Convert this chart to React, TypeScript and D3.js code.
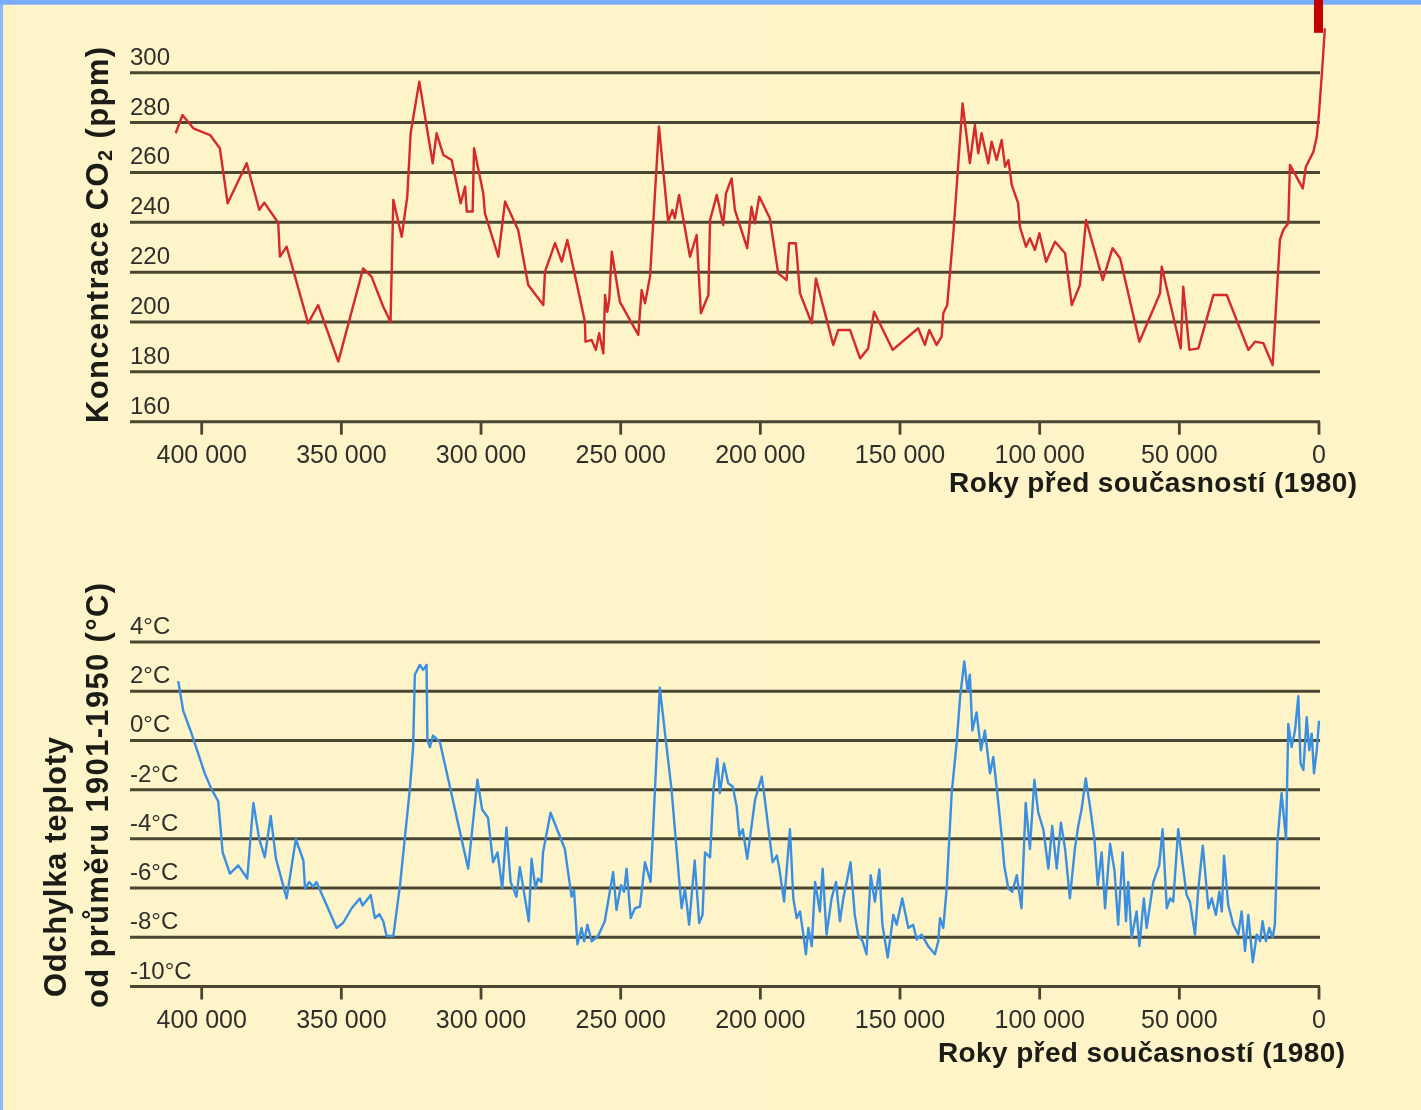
import React from "react";
import * as d3 from "d3";

// Ice-core record, years before present (thousands), CO2 concentration (ppm)
const co2Years = [
  409.3, 406.9, 403, 397, 393.5, 390.7, 383.9, 379.4, 377.6, 372.6, 372, 369.6, 361.9, 358.3, 351.1,
  342.2, 339.2, 335, 332.4, 331.4, 328.4, 326.4, 325.2, 322.1, 317.3, 315.9, 313.5, 310.5, 307.3,
  305.7, 305.1, 303, 302.5, 299.2, 298.6, 293.8, 291.4, 286.7, 283.1, 277.7, 277.1, 273.5, 271.1,
  269.1, 262.8, 262.6, 260.4, 258.9, 257.7, 256.2, 255.6, 254.8, 254.1, 253.2, 250.3, 243.7, 242.5,
  241.3, 239.5, 236.3, 233, 231.5, 230.6, 229.1, 225.2, 222.8, 221.3, 218.6, 218, 215.6, 213.3,
  212.3, 210.3, 209.1, 204.7, 203.2, 202, 200.4, 196.6, 193.6, 190.6, 189.7, 187.3, 185.8, 181.6,
  180.1, 173.9, 172.1, 167.9, 164.3, 161.4, 159.3, 152.6, 143.5, 141.1, 139.5, 136.9, 135.1, 134.5,
  133.1, 130.9, 127.6, 125, 123.2, 122, 120.8, 118.4, 117.2, 115.4, 113.6, 112.4, 111.2, 110, 107.7,
  107.1, 104.9, 103.5, 101.7, 100.1, 97.7, 94.5, 90.9, 88.5, 85.6, 83.4, 77.4, 73.9, 71.2, 64.3,
  56.9, 56.3, 49.5, 48.6, 46.4, 43.2, 37.8, 33, 25.3, 22.9, 19.9, 16.6, 14, 12.8, 11, 10.4, 5.8,
  4.7, 2, 0.8, 0, -1.2, -2.1,
];
const co2Values = [
  275.7, 283, 277.7, 275, 269.7, 247.6, 263.7, 245, 247.9, 239.8, 226.2, 230.2, 199.5, 206.8, 184.1,
  221.5, 218.2, 206.1, 200.1, 249, 234.2, 250.3, 275.7, 296.4, 263.7, 275.7, 267, 265, 247.6,
  254.3, 244.3, 244.3, 269.7, 251.6, 243.6, 226.2, 248.3, 236.9, 214.8, 206.8, 220.2, 231.6, 224.2,
  232.9, 200.1, 192.1, 192.8, 188.8, 195.5, 187.4, 210.8, 204.1, 208.8, 228.2, 208.1, 194.8, 212.8,
  207.5, 218.2, 278.4, 240.2, 244.9, 241.6, 251, 226.2, 234.9, 203.5, 210.8, 240.9, 251, 238.9,
  251.6, 257.6, 244.9, 229.6, 246.2, 239.6, 250.3, 241.6, 219.5, 216.8, 231.6, 231.6, 211.5, 199.5,
  217.5, 190.8, 196.8, 196.8, 185.4, 189.4, 204.1, 188.8, 197.5, 190.8, 196.8, 190.8, 194.1, 203.5,
  206.8, 235.6, 287.7, 263.7, 279, 267.7, 275.7, 263.7, 272.3, 265, 273, 262.3, 265, 255, 247.6,
  238.2, 230.2, 233.6, 228.9, 235.6, 224.2, 232.2, 227.6, 206.8, 214.8, 240.9, 216.8, 229.6, 225.6, 192.1,
  211.5, 222.2, 189.4, 214.2, 188.8, 189.4, 210.8, 210.8, 188.8, 192.1, 191.5, 182.7, 232.9, 236.9, 239.6, 263, 253.6,
  262.3, 268.3, 274.3, 283.7, 302.4, 317.8,
];

// Temperature deviation from the 1901-1950 mean (°C)
const tempYears = [
  408.4, 406.6, 403.6, 398.9, 396.4, 394.1, 392.5, 389.9, 386.9, 383.7, 381.5, 379.4, 377.4, 375.3,
  373.4, 369.6, 366.3, 363.6, 363, 361.5, 360.1, 358.9, 351.7, 349.4, 346.3, 343.4, 342.4, 339.5,
  338, 336.4, 335, 333.8, 331.4, 329, 327.2, 325.5, 324.3, 323.7, 321.9, 320.7, 319.5, 319.2, 318.3,
  317.2, 314.7, 304.6, 301.3, 299.6, 297.5, 295.7, 294.1, 292.4, 290.9, 289.4, 287.3, 286.1, 282.9,
  281.9, 280.5, 279.6, 278.4, 277.8, 275.1, 270, 267.6, 266.7, 265.5, 264, 263.1, 261.9, 260.4,
  258.1, 255.7, 252.7, 251.5, 249.9, 248.8, 247.9, 246.4, 244.9, 243.1, 241.3, 239.3, 236, 231.8,
  228.2, 227, 225.5, 223.5, 221.9, 220.7, 219.8, 218, 216.8, 215.4, 214.5, 213, 211.5, 209.9, 208.5,
  207.5, 206.3, 204.7, 201.9, 199.5, 198.7, 195.6, 194.1, 193.2, 191.5, 189.4, 188.2, 187, 185.8,
  184.6, 183.7, 182.8, 181.6, 180.4, 178.7, 177.7, 176.3, 174.5, 172.9, 171.5, 170.3, 167.7, 166.2,
  165, 163.4, 162, 160.5, 159, 157.4, 156.3, 154.4, 152.4, 151.2, 149.2, 147, 145.3, 144, 142.3,
  139.9, 137.5, 136.3, 135.7, 134.5, 133.3, 131.5, 129.7, 128.5, 127, 125.8, 125, 124.1, 122.6, 121,
  119.6, 117.8, 116.6, 114.8, 113.6, 112.7, 111.2, 109.8, 108.2, 106.5, 105, 103.5, 101.9, 100.5,
  98.7, 96.9, 95.5, 93.9, 92.4, 90.9, 89.2, 87.4, 86.2, 85, 83.5, 82, 80.4, 79.2, 77.8, 76.6, 74.8,
  73.2, 71.9, 70.3, 69.1, 68.3, 67.1, 65.3, 64.3, 62.7, 61.7, 59.3, 57.2, 56, 54.5, 53.3, 52.2, 50.4,
  47.4, 46.2, 44.4, 43.2, 41.6, 39.6, 38.4, 36.9, 35.7, 34.8, 34, 32.5, 30.7, 28.9, 27.7, 26.5, 25.3,
  23.7, 22.3, 21.1, 20.2, 19, 17.8, 16.6, 15.8, 14.9, 13.4, 11.8, 11, 9.8, 8.6, 7.4, 6.6, 5.6, 4.4,
  3.5, 2.6, 1.8, 0.8, 0,
];
const tempValues = [
  2.41, 1.2, 0.27, -1.34, -2.0, -2.47, -4.55, -5.41, -5.08, -5.61, -2.54, -4.01, -4.75, -3.07,
  -4.81, -6.42, -4.01, -4.88, -6.02, -5.75, -5.95, -5.75, -7.62, -7.42, -6.82, -6.42, -6.71, -6.28,
  -7.22, -7.06, -7.35, -7.95, -7.95, -5.88, -3.88, -2.0, -0.27, 2.67, 3.07, 2.87, 3.07, 0, -0.27,
  0.2, -0.07, -5.21, -1.6, -2.81, -3.14, -4.95, -4.55, -6.02, -3.54, -5.75, -6.35, -5.15, -7.35,
  -4.81, -6.02, -5.61, -5.75, -4.55, -2.94, -4.41, -6.35, -6.08, -8.29, -7.62, -8.16, -7.49, -8.16,
  -7.95, -7.35, -5.35, -6.89, -5.88, -6.15, -5.21, -7.22, -6.82, -6.75, -4.95, -5.75, 2.14, -2.0,
  -6.82, -6.02, -7.49, -4.88, -7.42, -7.09, -4.55, -4.75, -2.0, -0.74, -2.14, -0.94, -1.74, -1.87, -2.67,
  -3.88, -3.61, -4.81, -2.41, -1.47, -2.14, -4.95, -4.68, -5.21, -6.55, -3.61, -6.42, -7.22, -6.95,
  -7.89, -8.69, -7.62, -8.36, -5.75, -6.95, -5.21, -7.89, -6.42, -5.75, -7.35, -6.42, -4.95, -7.09,
  -7.89, -8.16, -8.69, -5.48, -6.55, -5.24, -7.49, -8.82, -7.09, -7.49, -6.42, -7.62, -7.49, -8.09, -7.89,
  -8.36, -8.69, -8.16, -7.22, -7.62, -6.02, -2.14, -0.07, 1.74, 3.21, 2.0, 2.67, 0.4, 1.14, -0.4,
  0.4, -1.34, -0.67, -2.54, -3.88, -5.08, -6.02, -6.15, -5.48, -6.82, -2.54, -4.41, -1.6, -2.94,
  -3.61, -5.21, -3.48, -5.21, -3.34, -4.41, -6.42, -4.41, -3.48, -2.81, -1.54, -2.67, -4.01, -5.88, -4.55, -6.82, -4.2,
  -5.3, -7.49, -4.55, -7.35, -5.75, -8.02, -6.95, -8.36, -6.42, -7.62, -5.75, -5.08, -3.61, -6.82, -6.42, -6.55, -3.61,
  -6.28, -6.55, -7.89, -6.02, -4.28, -6.82, -6.42, -7.09, -6.15, -6.95, -4.68, -6.68, -7.49, -7.89, -6.95, -8.56, -7.09,
  -9.02, -7.89, -8.16, -7.35, -8.16, -7.62, -8.02, -7.49, -4.14, -2.14, -4.01, 0.67, -0.27, 0.4, 1.8, -0.94, -1.2, 0.94,
  -0.4, 0.27, -1.34, -0.4, 0.8,
];

// Axis ticks
const yearTicks = [400, 350, 300, 250, 200, 150, 100, 50, 0];
const co2Ticks = [160, 180, 200, 220, 240, 260, 280, 300];
const tempTicks = [-10, -8, -6, -4, -2, 0, 2, 4];

// Present-day CO2 level, above the top of the scale
const presentCO2 = 316;

const xTitle = "Roky před současností (1980)";

const W = 1421;
const H = 1110;

const grid = "#4a4631";
const ink = "#2f2f2c";
const tickFont = "'Liberation Sans', Arial, sans-serif";

const fmtYears = d3.formatLocale({ decimal: ",", thousands: " ", grouping: [3], currency: ["", ""] }).format(",d");

export default function App() {
  const x = d3.scaleLinear().domain([400, 0]).range([201.7, 1319]);
  const yCO2 = d3.scaleLinear().domain([160, 300]).range([421.7, 72.7]);
  const yTemp = d3.scaleLinear().domain([-10, 4]).range([986.5, 642]);
  const gridX0 = 130;
  const gridX1 = 1320;

  const co2Line = d3
    .line<number>()
    .x((_, i) => x(co2Years[i]))
    .y((d) => yCO2(d));
  const tempLine = d3
    .line<number>()
    .x((_, i) => x(tempYears[i]))
    .y((d) => yTemp(d));

  const xAxis = (y0: number, key: string) => (
    <g key={key}>
      {yearTicks.map((t) => (
        <g key={t}>
          <line x1={x(t)} x2={x(t)} y1={y0} y2={y0 + 13} stroke={grid} strokeWidth={2.8} />
          <text
            x={x(t)}
            y={y0 + 41}
            textAnchor="middle"
            fontFamily={tickFont}
            fontSize={25}
            fill={ink}
          >
            {fmtYears(t * 1000)}
          </text>
        </g>
      ))}
    </g>
  );

  return (
    <svg
      width={W}
      height={H}
      viewBox={`0 0 ${W} ${H}`}
      style={{ position: "absolute", left: 0, top: 0, display: "block" }}
    >
      <defs>
        <filter id="soft" x="-5%" y="-5%" width="110%" height="110%">
          <feGaussianBlur stdDeviation="0.45" />
        </filter>
        <linearGradient id="bg" x1="0" x2="1" y1="0" y2="0">
          <stop offset="0" stopColor="#fbf3bf" />
          <stop offset="0.015" stopColor="#fef4c9" />
          <stop offset="1" stopColor="#fef4c8" />
        </linearGradient>
      </defs>
      <rect x={0} y={0} width={W} height={H} fill="url(#bg)" />
      <rect x={0} y={0} width={3} height={H} fill="#8ab8ff" />
      <rect x={0} y={0} width={W} height={4.7} fill="#78acff" />

      <g filter="url(#soft)">
        {/* CO2 panel */}
        {co2Ticks.map((t) => (
          <g key={`c${t}`}>
            <line x1={gridX0} x2={gridX1} y1={yCO2(t)} y2={yCO2(t)} stroke={grid} strokeWidth={3} />
            <text x={gridX0} y={yCO2(t) - 8} fontFamily={tickFont} fontSize={24} fill={ink}>
              {t}
            </text>
          </g>
        ))}
        {xAxis(yCO2(160), "xa1")}
        <path d={co2Line(co2Values) || ""} fill="none" stroke="#d42a2a" strokeWidth={2.4} strokeLinejoin="round" />
        <text
          transform={`translate(108,423) rotate(-90)`}
          fontFamily={tickFont}
          fontWeight="bold"
          fontSize={31}
          fill="#1b1b19"
          textLength={376}
          lengthAdjust="spacing"
        >
          Koncentrace CO
          <tspan fontSize={20} dy={4}>
            2
          </tspan>
          <tspan dy={-4}> (ppm)</tspan>
        </text>
        <text
          x={1357}
          y={492}
          textAnchor="end"
          fontFamily={tickFont}
          fontWeight="bold"
          fontSize={28}
          fill="#1b1b19"
          textLength={408}
          lengthAdjust="spacing"
        >
          {xTitle}
        </text>

        {/* Temperature panel */}
        {tempTicks.map((t) => (
          <g key={`t${t}`}>
            <line x1={gridX0} x2={gridX1} y1={yTemp(t)} y2={yTemp(t)} stroke={grid} strokeWidth={3} />
            <text x={gridX0} y={yTemp(t) - 8} fontFamily={tickFont} fontSize={24} fill={ink}>
              {`${t}°C`}
            </text>
          </g>
        ))}
        {xAxis(yTemp(-10), "xa2")}
        <path d={tempLine(tempValues) || ""} fill="none" stroke="#3a8fe2" strokeWidth={2.4} strokeLinejoin="round" />
        <text
          transform={`translate(66,997) rotate(-90)`}
          fontFamily={tickFont}
          fontWeight="bold"
          fontSize={31}
          fill="#1b1b19"
          textLength={260}
          lengthAdjust="spacing"
        >
          Odchylka teploty
        </text>
        <text
          transform={`translate(108,1008) rotate(-90)`}
          fontFamily={tickFont}
          fontWeight="bold"
          fontSize={31}
          fill="#1b1b19"
          textLength={425}
          lengthAdjust="spacing"
        >
          od průměru 1901-1950 (°C)
        </text>
        <text
          x={1345}
          y={1062}
          textAnchor="end"
          fontFamily={tickFont}
          fontWeight="bold"
          fontSize={28}
          fill="#1b1b19"
          textLength={407}
          lengthAdjust="spacing"
        >
          {xTitle}
        </text>
      </g>

      {/* present-day CO2 marker running off the top */}
      <rect x={x(0) - 5} y={0} width={9} height={yCO2(presentCO2)} fill="#c30000" />
    </svg>
  );
}
